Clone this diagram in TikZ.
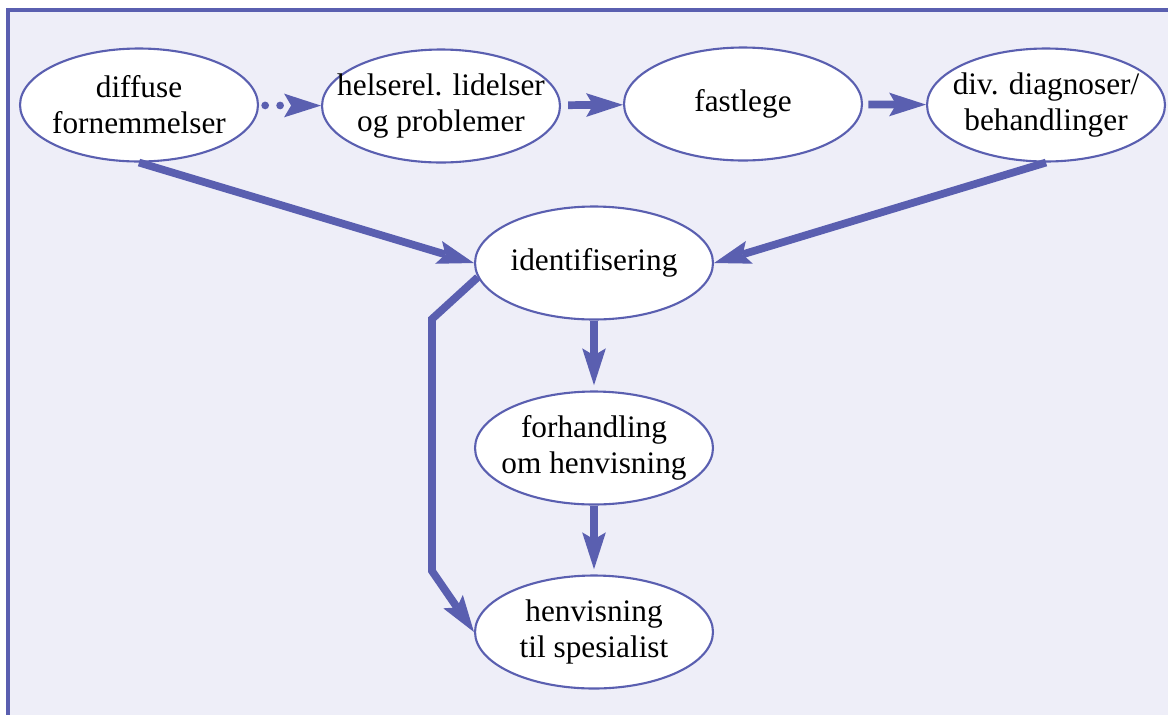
\documentclass[tikz,border=0pt]{standalone}
\usepackage{fontspec}
\setmainfont{Liberation Serif}
\usetikzlibrary{shapes.geometric,arrows.meta}
\definecolor{flowblue}{RGB}{90,95,176}
\definecolor{panelbg}{RGB}{238,238,248}
\tikzset{
  % --- steps in the referral path ---------------------------------------------
  bub/.style={ellipse,draw=flowblue,line width=1.2pt,fill=white,
              minimum width=4.76cm,minimum height=2.26cm,
              inner xsep=-12pt,inner ysep=0pt,align=center,
              font=\fontsize{17.8}{20.6}\selectfont},
  % --- links ------------------------------------------------------------------
  flow/.style={draw=flowblue,line width=4.4pt,
               -{Stealth[length=21pt,width=13.5pt,inset=4pt,line width=0pt]}},
  dotflow/.style={flow,line cap=round,dash pattern=on 0pt off 8.5pt,
                  dash phase=5pt},
}

\begin{document}
\begin{tikzpicture}[x=0.02cm, y=-0.02cm]
  \useasboundingbox (0,0) rectangle (1168,714);
  \draw[draw=flowblue,line width=2pt,fill=panelbg] (8,10) rectangle (1200,740);

  \node[bub] (diffus)   at (139,105)  {diffuse\\fornemmelser};
  \node[bub] (lidelser) at (441,106)  {helserel. lidelser\\og problemer};
  \node[bub] (fastlege) at (743,104)  {fastlege};
  \node[bub] (diagn)    at (1046,105) {div. diagnoser/\\behandlinger};
  \node[bub] (ident)    at (594,263)  {identifisering};
  \node[bub] (forh)     at (594,448)  {forhandling\\om henvisning};
  \node[bub] (henv)     at (594,632)  {henvisning\\til spesialist};

  \coordinate (knee1) at (432,319);
  \coordinate (knee2) at (432,571);

  \draw[dotflow] (diffus) -- (lidelser);
  \draw[flow,shorten <=4pt] (lidelser) -- (fastlege);
  \draw[flow,shorten <=3pt] (fastlege) -- (diagn);
  \draw[flow] (diffus.south) -- (ident.west);
  \draw[flow] (diagn.south) -- (ident.east);
  \draw[flow,shorten >=3pt] (ident) -- (forh);
  \draw[flow,shorten >=3pt] (forh) -- (henv);
  \draw[flow] (ident.187) -- (knee1) -- (knee2) -- (henv.west);
\end{tikzpicture}
\end{document}
